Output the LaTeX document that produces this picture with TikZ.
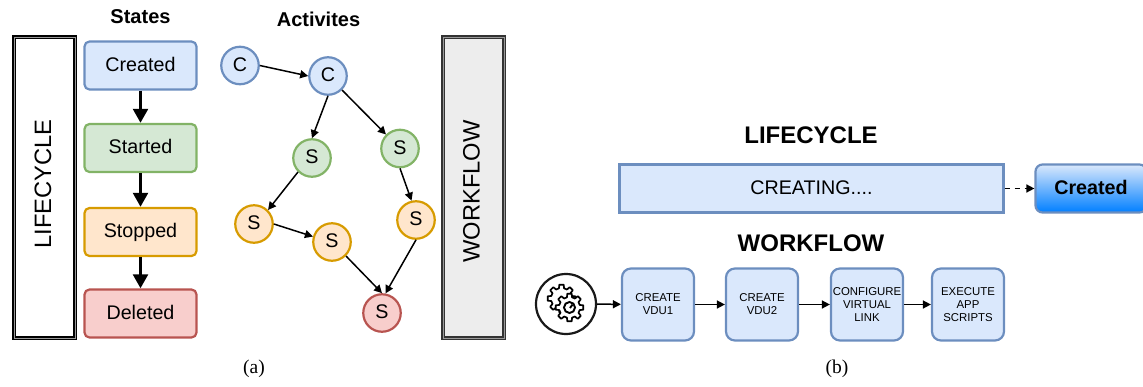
\documentclass[tikz,border=0pt]{standalone}
\usepackage{fontspec}
\setmainfont{Liberation Sans}
\newfontfamily\capfont{Liberation Serif}
\usetikzlibrary{arrows.meta}

\definecolor{bluefill}{HTML}{DAE8FC}
\definecolor{blueline}{HTML}{6C8EBF}
\definecolor{greenfill}{HTML}{D5E8D4}
\definecolor{greenline}{HTML}{82B366}
\definecolor{orangefill}{HTML}{FFE6CC}
\definecolor{orangeline}{HTML}{D79B00}
\definecolor{redfill}{HTML}{F8CECC}
\definecolor{redline}{HTML}{B85450}
\definecolor{btnblue}{HTML}{007FFF}

\tikzset{
  px/.style={x=1pt, y=-1pt},
  title/.style={font=\fontsize{#1}{#1}\selectfont\bfseries, inner sep=0pt},
  caption/.style={font=\capfont\fontsize{19.5}{20}\selectfont, inner sep=0pt},
  upshift/.style={text height=14.5pt, text depth=3.5pt},
  statebox/.style={draw=#1line, fill=#1fill, line width=2.2pt, rounded corners=5pt,
    minimum width=112pt, minimum height=48pt, inner sep=0pt, upshift,
    font=\fontsize{19.7}{20}\selectfont},
  activity/.style={circle, draw=#1line, fill=#1fill, line width=2.2pt,
    minimum size=37.5pt, inner sep=0pt, upshift, font=\fontsize{19.7}{20}\selectfont},
  dblbox/.style={draw=#1, double=black!40, double distance=0.9pt, line width=1.7pt,
    minimum width=61pt, minimum height=301pt, inner sep=0pt},
  sidetext/.style={rotate=90, inner sep=0pt, font=\fontsize{23.7}{24}\selectfont},
  taskbox/.style={draw=blueline, fill=bluefill, line width=2.2pt, rounded corners=9pt,
    minimum width=72pt, minimum height=72pt, inner sep=0pt, align=center,
    font=\fontsize{11.4}{13}\selectfont},
  bigarr/.style={line width=3.6pt, -{Triangle[length=14pt,width=14.5pt]}},
  arr/.style={line width=1.5pt, -{Triangle[length=8pt,width=8pt]}},
}

\begin{document}
\begin{tikzpicture}[px]
\useasboundingbox (0,0) rectangle (1143,386);

\def\xs{140.5}
\def\xw{473.5}

\node[title=20] (states) at (\xs, 17) {States};
\node[title=20] (activites) at (318.5, 19) {Activites};

\node[dblbox=black, fill=white] (life) at (44.5, 187.5) {};
\node[dblbox=black!80, fill=black!7] (work) at (\xw, 187.5) {};
\node[sidetext] (lifetext) at (43, 184) {LIFECYCLE};
\node[sidetext] (worktext) at (471.5, 191.5) {WORKFLOW};

\node[statebox=blue] (created) at (\xs, 65.5) {Created};
\node[statebox=green] (started) at (\xs, 148) {Started};
\node[statebox=orange] (stopped) at (\xs, 232) {Stopped};
\node[statebox=red] (deleted) at (\xs, 313.5) {Deleted};

\draw[bigarr] (created) -- (started);
\draw[bigarr] (started) -- (stopped);
\draw[bigarr] (stopped) -- (deleted);

\node[activity=blue] (ca) at (240, 65.5) {C};
\node[activity=blue] (cb) at (328, 76) {C};
\node[activity=green] (sa) at (312, 158) {S};
\node[activity=green] (sb) at (400, 148.5) {S};
\node[activity=orange] (sc) at (254, 224) {S};
\node[activity=orange] (sd) at (332, 242) {S};
\node[activity=orange] (se) at (416, 220) {S};
\node[activity=red] (sf) at (382, 313) {S};

\draw[arr] (ca.east) -- (cb.west);
\draw[arr] (cb.south) -- (sa.north);
\draw[arr] (cb.south east) -- (sb.north west);
\draw[arr] (sa.south west) -- (sc.north east);
\draw[arr] (sc.east) -- (sd.164);
\draw[arr] (sb.south) -- (se.103);
\draw[arr] (sd.south east) -- (sf.north);
\draw[arr] (se.south) -- (sf.80);

\node[caption] (capa) at (254, 369) {(a)};
\node[caption] (capb) at (837, 369) {(b)};

% right part
\node[title=24] (lifetitle) at (811, 135) {LIFECYCLE};
\node[draw=blueline, fill=bluefill, line width=2.2pt, minimum width=384pt, minimum height=48pt,
  inner sep=0pt, upshift, font=\fontsize{19.7}{20}\selectfont] (creating) at (811.5, 188.5) {CREATING....};
\node[draw=blueline, top color=bluefill, bottom color=btnblue, line width=2.2pt, rounded corners=7pt,
  minimum width=111pt, minimum height=48pt, inner sep=0pt, upshift,
  font=\fontsize{19.7}{20}\selectfont\bfseries] (button) at (1091, 188.5) {Created};
\draw[arr, dash pattern=on 5pt off 5pt] (creating) -- (button);

\node[title=24] (worktitle) at (811, 243) {WORKFLOW};

\node[circle, draw=black!90, line width=2.2pt, minimum size=60pt, inner sep=0pt] (gear) at (566, 304) {};
\foreach \gx/\gy/\gr in {-4.5/-5.5/14, 3.5/3.5/14} {
  \begin{scope}[shift={(gear.center)}, shift={(\gx,\gy)}, line width=1.7pt, line join=round]
  \filldraw[fill=white] (9:\gr)
    \foreach \a in {0,45,...,315} {
      -- (\a+9:\gr) -- (\a+14:\gr-3.5) -- (\a+31:\gr-3.5) -- (\a+36:\gr)
    } -- cycle;
  \end{scope}
}
\begin{scope}[shift={(gear.center)}, shift={(3.5,3.5)}, line width=1.9pt]
\draw (0,0) circle (5.5);
\draw (0.5,0.5) -- (3,-3);
\end{scope}

\node[taskbox] (vdua) at (658, 304.5) {CREATE\\VDU1};
\node[taskbox] (vdub) at (762, 304.5) {CREATE\\VDU2};
\node[taskbox] (link) at (867, 304.5) {CONFIGURE\\VIRTUAL\\LINK};
\node[taskbox] (exec) at (968, 304.5) {EXECUTE\\APP\\SCRIPTS};

\draw[arr] (gear) -- (vdua);
\draw[arr] (vdua) -- (vdub);
\draw[arr] (vdub) -- (link);
\draw[arr] (link) -- (exec);
\end{tikzpicture}
\end{document}
